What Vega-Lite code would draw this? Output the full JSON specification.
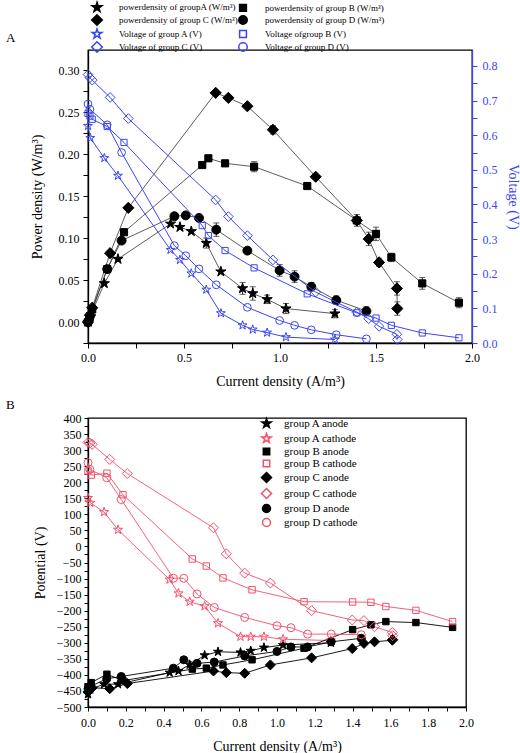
{
"$schema": "https://vega.github.io/schema/vega-lite/v6.json",
"padding": {"left": 5, "top": 1, "right": 0, "bottom": 0},
"config": {
  "font": "Liberation Serif",
  "view": {"stroke": "#000", "strokeWidth": 1.3},
  "axis": {"grid": false, "domainColor": "#000", "domainWidth": 1.3, "tickColor": "#000", "tickSize": 5, "labelFont": "Liberation Serif", "labelFontSize": 12, "labelColor": "#000", "titleFont": "Liberation Serif", "titleFontSize": 14, "titleFontWeight": "normal", "titleColor": "#000", "labelFlush": false, "labelOverlap": false},
  "legend": {"labelFont": "Liberation Serif", "labelColor": "#000"},
  "title": {"font": "Liberation Serif", "fontWeight": "normal", "fontSize": 13, "color": "#000"}
},
"datasets": {
  "pw": [
    {"s": "powerdensity of groupA (W/m³)", "x": 0, "y": 0},
    {"s": "powerdensity of groupA (W/m³)", "x": 0.012, "y": 0.007},
    {"s": "powerdensity of groupA (W/m³)", "x": 0.085, "y": 0.046},
    {"s": "powerdensity of groupA (W/m³)", "x": 0.156, "y": 0.075},
    {"s": "powerdensity of groupA (W/m³)", "x": 0.43, "y": 0.117},
    {"s": "powerdensity of groupA (W/m³)", "x": 0.479, "y": 0.113},
    {"s": "powerdensity of groupA (W/m³)", "x": 0.538, "y": 0.108},
    {"s": "powerdensity of groupA (W/m³)", "x": 0.616, "y": 0.094},
    {"s": "powerdensity of groupA (W/m³)", "x": 0.692, "y": 0.060},
    {"s": "powerdensity of groupA (W/m³)", "x": 0.805, "y": 0.040},
    {"s": "powerdensity of groupA (W/m³)", "x": 0.858, "y": 0.034},
    {"s": "powerdensity of groupA (W/m³)", "x": 0.933, "y": 0.027},
    {"s": "powerdensity of groupA (W/m³)", "x": 1.031, "y": 0.016},
    {"s": "powerdensity of groupA (W/m³)", "x": 1.286, "y": 0.010},
    {"s": "powerdensity of group B (W/m³)", "x": 0, "y": 0},
    {"s": "powerdensity of group B (W/m³)", "x": 0.01, "y": 0.007},
    {"s": "powerdensity of group B (W/m³)", "x": 0.022, "y": 0.015},
    {"s": "powerdensity of group B (W/m³)", "x": 0.1, "y": 0.063},
    {"s": "powerdensity of group B (W/m³)", "x": 0.1875, "y": 0.107},
    {"s": "powerdensity of group B (W/m³)", "x": 0.595, "y": 0.187},
    {"s": "powerdensity of group B (W/m³)", "x": 0.627, "y": 0.195},
    {"s": "powerdensity of group B (W/m³)", "x": 0.714, "y": 0.189},
    {"s": "powerdensity of group B (W/m³)", "x": 0.865, "y": 0.185},
    {"s": "powerdensity of group B (W/m³)", "x": 1.142, "y": 0.162},
    {"s": "powerdensity of group B (W/m³)", "x": 1.40, "y": 0.121},
    {"s": "powerdensity of group B (W/m³)", "x": 1.50, "y": 0.105},
    {"s": "powerdensity of group B (W/m³)", "x": 1.58, "y": 0.077},
    {"s": "powerdensity of group B (W/m³)", "x": 1.741, "y": 0.046},
    {"s": "powerdensity of group B (W/m³)", "x": 1.932, "y": 0.023},
    {"s": "powerdensity of group C (W/m³)", "x": 0, "y": 0},
    {"s": "powerdensity of group C (W/m³)", "x": 0.01, "y": 0.008},
    {"s": "powerdensity of group C (W/m³)", "x": 0.022, "y": 0.017},
    {"s": "powerdensity of group C (W/m³)", "x": 0.115, "y": 0.082},
    {"s": "powerdensity of group C (W/m³)", "x": 0.21, "y": 0.136},
    {"s": "powerdensity of group C (W/m³)", "x": 0.665, "y": 0.273},
    {"s": "powerdensity of group C (W/m³)", "x": 0.731, "y": 0.267},
    {"s": "powerdensity of group C (W/m³)", "x": 0.83, "y": 0.257},
    {"s": "powerdensity of group C (W/m³)", "x": 0.963, "y": 0.229},
    {"s": "powerdensity of group C (W/m³)", "x": 1.186, "y": 0.173},
    {"s": "powerdensity of group C (W/m³)", "x": 1.40, "y": 0.121},
    {"s": "powerdensity of group C (W/m³)", "x": 1.462, "y": 0.099},
    {"s": "powerdensity of group C (W/m³)", "x": 1.516, "y": 0.071},
    {"s": "powerdensity of group C (W/m³)", "x": 1.609, "y": 0.040},
    {"s": "powerdensity of group C (W/m³)", "x": 1.611, "y": 0.016},
    {"s": "powerdensity of group D (W/m³)", "x": 0, "y": 0},
    {"s": "powerdensity of group D (W/m³)", "x": 0.01, "y": 0.007},
    {"s": "powerdensity of group D (W/m³)", "x": 0.1, "y": 0.063},
    {"s": "powerdensity of group D (W/m³)", "x": 0.175, "y": 0.097},
    {"s": "powerdensity of group D (W/m³)", "x": 0.45, "y": 0.126},
    {"s": "powerdensity of group D (W/m³)", "x": 0.509, "y": 0.127},
    {"s": "powerdensity of group D (W/m³)", "x": 0.578, "y": 0.124},
    {"s": "powerdensity of group D (W/m³)", "x": 0.668, "y": 0.110},
    {"s": "powerdensity of group D (W/m³)", "x": 0.83, "y": 0.085},
    {"s": "powerdensity of group D (W/m³)", "x": 0.998, "y": 0.0615},
    {"s": "powerdensity of group D (W/m³)", "x": 1.076, "y": 0.054},
    {"s": "powerdensity of group D (W/m³)", "x": 1.163, "y": 0.042},
    {"s": "powerdensity of group D (W/m³)", "x": 1.293, "y": 0.026},
    {"s": "powerdensity of group D (W/m³)", "x": 1.45, "y": 0.013}
  ],
  "err": [
    {"x": 0.616, "lo": 0.088, "hi": 0.100},
    {"x": 0.805, "lo": 0.033, "hi": 0.047},
    {"x": 0.858, "lo": 0.026, "hi": 0.042},
    {"x": 0.933, "lo": 0.022, "hi": 0.032},
    {"x": 1.031, "lo": 0.010, "hi": 0.022},
    {"x": 1.286, "lo": 0.005, "hi": 0.015},
    {"x": 0.865, "lo": 0.179, "hi": 0.191},
    {"x": 1.50, "lo": 0.097, "hi": 0.113},
    {"x": 1.58, "lo": 0.072, "hi": 0.082},
    {"x": 1.741, "lo": 0.039, "hi": 0.053},
    {"x": 1.932, "lo": 0.017, "hi": 0.029},
    {"x": 0.963, "lo": 0.224, "hi": 0.234},
    {"x": 1.40, "lo": 0.114, "hi": 0.128},
    {"x": 1.462, "lo": 0.091, "hi": 0.107},
    {"x": 1.516, "lo": 0.066, "hi": 0.076},
    {"x": 1.609, "lo": 0.032, "hi": 0.048},
    {"x": 1.611, "lo": 0.008, "hi": 0.024},
    {"x": 0.668, "lo": 0.102, "hi": 0.118},
    {"x": 0.998, "lo": 0.0545, "hi": 0.0685},
    {"x": 1.076, "lo": 0.047, "hi": 0.061},
    {"x": 1.163, "lo": 0.037, "hi": 0.047},
    {"x": 1.293, "lo": 0.021, "hi": 0.031},
    {"x": 1.45, "lo": 0.008, "hi": 0.018}
  ],
  "vo": [
    {"s": "Voltage  of group A (V)", "x": 0, "y": 0.627},
    {"s": "Voltage  of group A (V)", "x": 0.012, "y": 0.592},
    {"s": "Voltage  of group A (V)", "x": 0.085, "y": 0.534},
    {"s": "Voltage  of group A (V)", "x": 0.156, "y": 0.483},
    {"s": "Voltage  of group A (V)", "x": 0.43, "y": 0.269},
    {"s": "Voltage  of group A (V)", "x": 0.479, "y": 0.240},
    {"s": "Voltage  of group A (V)", "x": 0.538, "y": 0.201},
    {"s": "Voltage  of group A (V)", "x": 0.616, "y": 0.154},
    {"s": "Voltage  of group A (V)", "x": 0.692, "y": 0.086},
    {"s": "Voltage  of group A (V)", "x": 0.805, "y": 0.051},
    {"s": "Voltage  of group A (V)", "x": 0.858, "y": 0.039},
    {"s": "Voltage  of group A (V)", "x": 0.933, "y": 0.030},
    {"s": "Voltage  of group A (V)", "x": 1.031, "y": 0.017},
    {"s": "Voltage  of group A (V)", "x": 1.286, "y": 0.010},
    {"s": "Voltage ofgroup B (V)", "x": 0, "y": 0.663},
    {"s": "Voltage ofgroup B (V)", "x": 0.01, "y": 0.655},
    {"s": "Voltage ofgroup B (V)", "x": 0.022, "y": 0.646},
    {"s": "Voltage ofgroup B (V)", "x": 0.1, "y": 0.625},
    {"s": "Voltage ofgroup B (V)", "x": 0.1875, "y": 0.579},
    {"s": "Voltage ofgroup B (V)", "x": 0.595, "y": 0.339},
    {"s": "Voltage ofgroup B (V)", "x": 0.627, "y": 0.310},
    {"s": "Voltage ofgroup B (V)", "x": 0.714, "y": 0.267},
    {"s": "Voltage ofgroup B (V)", "x": 0.865, "y": 0.217},
    {"s": "Voltage ofgroup B (V)", "x": 1.142, "y": 0.142},
    {"s": "Voltage ofgroup B (V)", "x": 1.40, "y": 0.087},
    {"s": "Voltage ofgroup B (V)", "x": 1.50, "y": 0.072},
    {"s": "Voltage ofgroup B (V)", "x": 1.58, "y": 0.051},
    {"s": "Voltage ofgroup B (V)", "x": 1.741, "y": 0.029},
    {"s": "Voltage ofgroup B (V)", "x": 1.932, "y": 0.015},
    {"s": "Voltage of group C (V)", "x": 0, "y": 0.775},
    {"s": "Voltage of group C (V)", "x": 0.01, "y": 0.766},
    {"s": "Voltage of group C (V)", "x": 0.022, "y": 0.759},
    {"s": "Voltage of group C (V)", "x": 0.115, "y": 0.709},
    {"s": "Voltage of group C (V)", "x": 0.21, "y": 0.648},
    {"s": "Voltage of group C (V)", "x": 0.665, "y": 0.413},
    {"s": "Voltage of group C (V)", "x": 0.731, "y": 0.365},
    {"s": "Voltage of group C (V)", "x": 0.83, "y": 0.310},
    {"s": "Voltage of group C (V)", "x": 0.963, "y": 0.240},
    {"s": "Voltage of group C (V)", "x": 1.186, "y": 0.147},
    {"s": "Voltage of group C (V)", "x": 1.40, "y": 0.089},
    {"s": "Voltage of group C (V)", "x": 1.462, "y": 0.070},
    {"s": "Voltage of group C (V)", "x": 1.516, "y": 0.048},
    {"s": "Voltage of group C (V)", "x": 1.609, "y": 0.025},
    {"s": "Voltage of group C (V)", "x": 1.611, "y": 0.010},
    {"s": "Voltage of group D (V)", "x": 0, "y": 0.690},
    {"s": "Voltage of group D (V)", "x": 0.01, "y": 0.675},
    {"s": "Voltage of group D (V)", "x": 0.1, "y": 0.630},
    {"s": "Voltage of group D (V)", "x": 0.175, "y": 0.550},
    {"s": "Voltage of group D (V)", "x": 0.45, "y": 0.281},
    {"s": "Voltage of group D (V)", "x": 0.509, "y": 0.252},
    {"s": "Voltage of group D (V)", "x": 0.578, "y": 0.214},
    {"s": "Voltage of group D (V)", "x": 0.668, "y": 0.168},
    {"s": "Voltage of group D (V)", "x": 0.83, "y": 0.103},
    {"s": "Voltage of group D (V)", "x": 0.998, "y": 0.065},
    {"s": "Voltage of group D (V)", "x": 1.076, "y": 0.051},
    {"s": "Voltage of group D (V)", "x": 1.163, "y": 0.038},
    {"s": "Voltage of group D (V)", "x": 1.293, "y": 0.024},
    {"s": "Voltage of group D (V)", "x": 1.45, "y": 0.012}
  ],
  "pot": [
    {"s": "group A anode", "x": 0, "y": -460},
    {"s": "group A anode", "x": 0.012, "y": -445},
    {"s": "group A anode", "x": 0.085, "y": -429},
    {"s": "group A anode", "x": 0.159, "y": -429},
    {"s": "group A anode", "x": 0.432, "y": -393},
    {"s": "group A anode", "x": 0.479, "y": -388},
    {"s": "group A anode", "x": 0.538, "y": -368},
    {"s": "group A anode", "x": 0.617, "y": -339},
    {"s": "group A anode", "x": 0.688, "y": -328},
    {"s": "group A anode", "x": 0.807, "y": -330},
    {"s": "group A anode", "x": 0.861, "y": -325},
    {"s": "group A anode", "x": 0.931, "y": -315},
    {"s": "group A anode", "x": 1.032, "y": -307},
    {"s": "group A anode", "x": 1.285, "y": -300},
    {"s": "group A cathode", "x": 0, "y": 151},
    {"s": "group A cathode", "x": 0.012, "y": 136},
    {"s": "group A cathode", "x": 0.085, "y": 107},
    {"s": "group A cathode", "x": 0.159, "y": 52},
    {"s": "group A cathode", "x": 0.432, "y": -103},
    {"s": "group A cathode", "x": 0.479, "y": -146},
    {"s": "group A cathode", "x": 0.538, "y": -172},
    {"s": "group A cathode", "x": 0.617, "y": -186},
    {"s": "group A cathode", "x": 0.688, "y": -239},
    {"s": "group A cathode", "x": 0.807, "y": -281},
    {"s": "group A cathode", "x": 0.861, "y": -281},
    {"s": "group A cathode", "x": 0.931, "y": -281},
    {"s": "group A cathode", "x": 1.032, "y": -289},
    {"s": "group A cathode", "x": 1.285, "y": -293},
    {"s": "group B  anode", "x": 0, "y": -438},
    {"s": "group B  anode", "x": 0.017, "y": -424},
    {"s": "group B  anode", "x": 0.1, "y": -398},
    {"s": "group B  anode", "x": 0.185, "y": -418},
    {"s": "group B  anode", "x": 0.552, "y": -382},
    {"s": "group B  anode", "x": 0.626, "y": -379},
    {"s": "group B  anode", "x": 0.714, "y": -369},
    {"s": "group B  anode", "x": 0.868, "y": -353},
    {"s": "group B  anode", "x": 1.143, "y": -317},
    {"s": "group B  anode", "x": 1.40, "y": -259},
    {"s": "group B  anode", "x": 1.497, "y": -244},
    {"s": "group B  anode", "x": 1.576, "y": -234},
    {"s": "group B  anode", "x": 1.735, "y": -237},
    {"s": "group B  anode", "x": 1.929, "y": -252},
    {"s": "group B cathode", "x": 0, "y": 235},
    {"s": "group B cathode", "x": 0.017, "y": 222},
    {"s": "group B cathode", "x": 0.1, "y": 228},
    {"s": "group B cathode", "x": 0.185, "y": 161},
    {"s": "group B cathode", "x": 0.552, "y": -39},
    {"s": "group B cathode", "x": 0.626, "y": -61},
    {"s": "group B cathode", "x": 0.714, "y": -98},
    {"s": "group B cathode", "x": 0.868, "y": -135},
    {"s": "group B cathode", "x": 1.143, "y": -172},
    {"s": "group B cathode", "x": 1.40, "y": -173},
    {"s": "group B cathode", "x": 1.497, "y": -174},
    {"s": "group B cathode", "x": 1.576, "y": -187},
    {"s": "group B cathode", "x": 1.735, "y": -199},
    {"s": "group B cathode", "x": 1.929, "y": -234},
    {"s": "group C anode", "x": 0, "y": -453},
    {"s": "group C anode", "x": 0.01, "y": -444},
    {"s": "group C anode", "x": 0.022, "y": -440},
    {"s": "group C anode", "x": 0.115, "y": -443},
    {"s": "group C anode", "x": 0.208, "y": -427},
    {"s": "group C anode", "x": 0.664, "y": -388},
    {"s": "group C anode", "x": 0.732, "y": -393},
    {"s": "group C anode", "x": 0.829, "y": -395},
    {"s": "group C anode", "x": 0.965, "y": -369},
    {"s": "group C anode", "x": 1.183, "y": -347},
    {"s": "group C anode", "x": 1.398, "y": -318},
    {"s": "group C anode", "x": 1.46, "y": -302},
    {"s": "group C anode", "x": 1.516, "y": -297},
    {"s": "group C anode", "x": 1.61, "y": -292},
    {"s": "group C anode", "x": 1.612, "y": -290},
    {"s": "group C cathode", "x": 0, "y": 324},
    {"s": "group C cathode", "x": 0.01, "y": 322},
    {"s": "group C cathode", "x": 0.022, "y": 318},
    {"s": "group C cathode", "x": 0.115, "y": 271},
    {"s": "group C cathode", "x": 0.208, "y": 227},
    {"s": "group C cathode", "x": 0.664, "y": 58},
    {"s": "group C cathode", "x": 0.732, "y": -23},
    {"s": "group C cathode", "x": 0.829, "y": -83},
    {"s": "group C cathode", "x": 0.965, "y": -114},
    {"s": "group C cathode", "x": 1.183, "y": -200},
    {"s": "group C cathode", "x": 1.398, "y": -229},
    {"s": "group C cathode", "x": 1.46, "y": -231},
    {"s": "group C cathode", "x": 1.516, "y": -250},
    {"s": "group C cathode", "x": 1.61, "y": -268},
    {"s": "group C cathode", "x": 1.612, "y": -278},
    {"s": "group D anode", "x": 0, "y": -443},
    {"s": "group D anode", "x": 0.01, "y": -437},
    {"s": "group D anode", "x": 0.099, "y": -412},
    {"s": "group D anode", "x": 0.176, "y": -405},
    {"s": "group D anode", "x": 0.452, "y": -379},
    {"s": "group D anode", "x": 0.507, "y": -353},
    {"s": "group D anode", "x": 0.577, "y": -364},
    {"s": "group D anode", "x": 0.668, "y": -360},
    {"s": "group D anode", "x": 0.829, "y": -341},
    {"s": "group D anode", "x": 1.0, "y": -327},
    {"s": "group D anode", "x": 1.074, "y": -313},
    {"s": "group D anode", "x": 1.162, "y": -313},
    {"s": "group D anode", "x": 1.287, "y": -297},
    {"s": "group D anode", "x": 1.446, "y": -286},
    {"s": "group D cathode", "x": 0, "y": 261},
    {"s": "group D cathode", "x": 0.01, "y": 240},
    {"s": "group D cathode", "x": 0.099, "y": 214},
    {"s": "group D cathode", "x": 0.176, "y": 146},
    {"s": "group D cathode", "x": 0.452, "y": -99},
    {"s": "group D cathode", "x": 0.507, "y": -99},
    {"s": "group D cathode", "x": 0.577, "y": -148},
    {"s": "group D cathode", "x": 0.668, "y": -190},
    {"s": "group D cathode", "x": 0.829, "y": -221},
    {"s": "group D cathode", "x": 1.0, "y": -247},
    {"s": "group D cathode", "x": 1.074, "y": -253},
    {"s": "group D cathode", "x": 1.162, "y": -273},
    {"s": "group D cathode", "x": 1.287, "y": -273},
    {"s": "group D cathode", "x": 1.446, "y": -275}
  ]
},
"vconcat": [
  {
    "width": 384, "height": 293,
    "title": {"text": "A", "anchor": "start", "frame": "group", "dx": -82, "dy": 43, "offset": 0},
    "layer": [
      {"data": {"name": "pw"}, "layer": [
        {"mark": {"type": "line", "strokeWidth": 0.8, "stroke": "#333"},
         "encoding": {
           "x": {"field": "x", "type": "quantitative", "scale": {"domain": [0, 2], "nice": false}},
           "y": {"field": "y", "type": "quantitative", "scale": {"domain": [-0.025, 0.324], "nice": false, "zero": false}, "title": "Power density (W/m³)"},
           "detail": {"field": "s"}}},
        {"data": {"name": "err"}, "mark": {"type": "errorbar", "ticks": {"size": 6}, "color": "#222"},
         "encoding": {
           "x": {"field": "x", "type": "quantitative", "scale": {"domain": [0, 2], "nice": false}},
           "y": {"field": "lo", "type": "quantitative", "scale": {"domain": [-0.025, 0.324], "nice": false, "zero": false}, "title": "Power density (W/m³)"},
           "y2": {"field": "hi"}}},
        {"mark": {"type": "point", "size": 80, "opacity": 1, "strokeWidth": 1},
         "encoding": {
           "x": {"field": "x", "type": "quantitative", "scale": {"domain": [0, 2], "nice": false},
                 "axis": {"title": "Current density (A/m³)", "values": [0, 0.25, 0.5, 0.75, 1, 1.25, 1.5, 1.75, 2], "tickCount": 500,
                          "labelExpr": "abs(datum.value*2-round(datum.value*2))<1e-6 ? format(datum.value,'.1f') : ''",
                          "labelOverlap": false, "labelPadding": 4, "titlePadding": 11,
                          "encode": {"ticks": {"y2": {"value": {"expr": "abs(datum.value*2-round(datum.value*2))<1e-6 ? 5 : 3"}}}}}},
           "y": {"field": "y", "type": "quantitative", "scale": {"domain": [-0.025, 0.324], "nice": false, "zero": false},
                 "axis": {"title": "Power density (W/m³)", "values": [-0.025, 0, 0.025, 0.05, 0.075, 0.1, 0.125, 0.15, 0.175, 0.2, 0.225, 0.25, 0.275, 0.3], "tickCount": 500,
                          "labelExpr": "datum.value > -0.001 && abs(datum.value*20-round(datum.value*20))<1e-6 ? format(datum.value,'.2f') : ''",
                          "labelOverlap": false, "labelPadding": 4, "titlePadding": 14,
                          "encode": {"ticks": {"x2": {"value": {"expr": "abs(datum.value*20-round(datum.value*20))<1e-6 ? -5 : -3"}}}}}},
           "shape": {"field": "s", "type": "nominal",
                     "scale": {"domain": ["powerdensity of groupA (W/m³)", "powerdensity of group C (W/m³)", "Voltage  of group A (V)", "Voltage of group C (V)", "powerdensity of group B (W/m³)", "powerdensity of group D (W/m³)", "Voltage ofgroup B (V)", "Voltage of group D (V)"],
                               "range": ["M0,-1.2L0.27,-0.37L1.14,-0.37L0.44,0.14L0.71,0.97L0,0.46L-0.71,0.97L-0.44,0.14L-1.14,-0.37L-0.27,-0.37Z", "M0,-1.25L1.25,0L0,1.25L-1.25,0Z", "M0,-1.2L0.27,-0.37L1.14,-0.37L0.44,0.14L0.71,0.97L0,0.46L-0.71,0.97L-0.44,0.14L-1.14,-0.37L-0.27,-0.37Z", "M0,-1.25L1.25,0L0,1.25L-1.25,0Z", "M-0.8,-0.8H0.8V0.8H-0.8Z", "circle", "M-0.8,-0.8H0.8V0.8H-0.8Z", "circle"]},
                     "legend": {"orient": "none", "legendX": 4, "legendY": -48, "columns": 2, "title": null, "padding": 0,
                                "symbolSize": 72, "labelFontSize": 9, "labelOffset": 17, "rowPadding": -6.3, "columnPadding": -5,
                                "encode": {"symbols": {
                                  "fill": {"value": {"expr": "indexOf(datum.value,'power')>=0 ? '#000000' : 'transparent'"}},
                                  "stroke": {"value": {"expr": "indexOf(datum.value,'power')>=0 ? '#000000' : '#3a46f2'"}},
                                  "strokeWidth": {"value": 1},
                                  "opacity": {"value": 1}}}}},
           "fill": {"field": "s", "type": "nominal", "legend": null,
                    "scale": {"domain": ["powerdensity of groupA (W/m³)", "powerdensity of group C (W/m³)", "Voltage  of group A (V)", "Voltage of group C (V)", "powerdensity of group B (W/m³)", "powerdensity of group D (W/m³)", "Voltage ofgroup B (V)", "Voltage of group D (V)"],
                              "range": ["#000000", "#000000", "transparent", "transparent", "#000000", "#000000", "transparent", "transparent"]}},
           "stroke": {"field": "s", "type": "nominal", "legend": null,
                      "scale": {"domain": ["powerdensity of groupA (W/m³)", "powerdensity of group C (W/m³)", "Voltage  of group A (V)", "Voltage of group C (V)", "powerdensity of group B (W/m³)", "powerdensity of group D (W/m³)", "Voltage ofgroup B (V)", "Voltage of group D (V)"],
                                "range": ["#000000", "#000000", "#3a46f2", "#3a46f2", "#000000", "#000000", "#3a46f2", "#3a46f2"]}}}}
      ]},
      {"data": {"name": "vo"}, "layer": [
        {"mark": {"type": "line", "strokeWidth": 1, "stroke": "#3a46f2"},
         "encoding": {
           "x": {"field": "x", "type": "quantitative", "scale": {"domain": [0, 2], "nice": false}},
           "y": {"field": "y", "type": "quantitative", "scale": {"domain": [0, 0.846], "nice": false}, "title": "Voltage (V)"},
           "detail": {"field": "s"}}},
        {"mark": {"type": "point", "size": 60, "opacity": 1, "strokeWidth": 1},
         "encoding": {
           "x": {"field": "x", "type": "quantitative", "scale": {"domain": [0, 2], "nice": false}},
           "y": {"field": "y", "type": "quantitative", "scale": {"domain": [0, 0.846], "nice": false},
                 "axis": {"orient": "right", "title": "Voltage (V)", "values": [0, 0.05, 0.1, 0.15, 0.2, 0.25, 0.3, 0.35, 0.4, 0.45, 0.5, 0.55, 0.6, 0.65, 0.7, 0.75, 0.8], "tickCount": 500,
                          "labelExpr": "abs(datum.value*10-round(datum.value*10))<1e-6 ? format(datum.value,'.1f') : ''",
                          "labelOverlap": false,
                          "domainColor": "#3a46f2", "tickColor": "#3a46f2", "labelColor": "#3a46f2", "titleColor": "#3a46f2",
                          "labelPadding": 5, "titlePadding": 8,
                          "encode": {"ticks": {"x2": {"value": {"expr": "abs(datum.value*10-round(datum.value*10))<1e-6 ? 5 : 3"}}}}}},
           "shape": {"field": "s", "type": "nominal", "legend": null,
                     "scale": {"domain": ["powerdensity of groupA (W/m³)", "powerdensity of group C (W/m³)", "Voltage  of group A (V)", "Voltage of group C (V)", "powerdensity of group B (W/m³)", "powerdensity of group D (W/m³)", "Voltage ofgroup B (V)", "Voltage of group D (V)"],
                               "range": ["M0,-1.2L0.27,-0.37L1.14,-0.37L0.44,0.14L0.71,0.97L0,0.46L-0.71,0.97L-0.44,0.14L-1.14,-0.37L-0.27,-0.37Z", "M0,-1.25L1.25,0L0,1.25L-1.25,0Z", "M0,-1.2L0.27,-0.37L1.14,-0.37L0.44,0.14L0.71,0.97L0,0.46L-0.71,0.97L-0.44,0.14L-1.14,-0.37L-0.27,-0.37Z", "M0,-1.25L1.25,0L0,1.25L-1.25,0Z", "M-0.8,-0.8H0.8V0.8H-0.8Z", "circle", "M-0.8,-0.8H0.8V0.8H-0.8Z", "circle"]}},
           "fill": {"field": "s", "type": "nominal", "legend": null,
                    "scale": {"domain": ["powerdensity of groupA (W/m³)", "powerdensity of group C (W/m³)", "Voltage  of group A (V)", "Voltage of group C (V)", "powerdensity of group B (W/m³)", "powerdensity of group D (W/m³)", "Voltage ofgroup B (V)", "Voltage of group D (V)"],
                              "range": ["#000000", "#000000", "transparent", "transparent", "#000000", "#000000", "transparent", "transparent"]}},
           "stroke": {"field": "s", "type": "nominal", "legend": null,
                      "scale": {"domain": ["powerdensity of groupA (W/m³)", "powerdensity of group C (W/m³)", "Voltage  of group A (V)", "Voltage of group C (V)", "powerdensity of group B (W/m³)", "powerdensity of group D (W/m³)", "Voltage ofgroup B (V)", "Voltage of group D (V)"],
                                "range": ["#000000", "#000000", "#3a46f2", "#3a46f2", "#000000", "#000000", "#3a46f2", "#3a46f2"]}}}}
      ]}
    ],
    "resolve": {"scale": {"y": "independent"}}
  },
  {
    "width": 378, "height": 289,
    "title": {"text": "B", "anchor": "start", "frame": "group", "dx": -82, "dy": 4, "offset": 4},
    "layer": [
      {"data": {"name": "pot"}, "layer": [
        {"mark": {"type": "line", "strokeWidth": 0.9},
         "encoding": {
           "x": {"field": "x", "type": "quantitative", "scale": {"domain": [0, 2], "nice": false}},
           "y": {"field": "y", "type": "quantitative", "scale": {"domain": [-500, 400], "nice": false}, "title": "Potential (V)"},
           "detail": {"field": "s"},
           "stroke": {"field": "s", "type": "nominal",
                      "scale": {"domain": ["group A anode", "group A cathode", "group B  anode", "group B cathode", "group C anode", "group C cathode", "group D anode", "group D cathode"],
                                "range": ["#000000", "#f2506b", "#000000", "#f2506b", "#000000", "#f2506b", "#000000", "#f2506b"]},
                      "legend": {"orient": "none", "legendX": 173, "legendY": 0, "title": null, "padding": 0, "direction": "vertical", "symbolSize": 64, "labelFontSize": 11, "labelOffset": 12, "rowPadding": -1}}}},
        {"mark": {"type": "point", "size": 64, "opacity": 1, "strokeWidth": 1},
         "encoding": {
           "x": {"field": "x", "type": "quantitative", "scale": {"domain": [0, 2], "nice": false},
                 "axis": {"title": "Current density (A/m³)", "values": [0, 0.1, 0.2, 0.3, 0.4, 0.5, 0.6, 0.7, 0.8, 0.9, 1, 1.1, 1.2, 1.3, 1.4, 1.5, 1.6, 1.7, 1.8, 1.9, 2], "tickCount": 500,
                          "labelExpr": "abs(datum.value*5-round(datum.value*5))<1e-6 ? format(datum.value,'.1f') : ''",
                          "labelOverlap": false, "tickSize": 4, "labelPadding": 6, "titlePadding": 11,
                          "encode": {"ticks": {"y2": {"value": {"expr": "abs(datum.value*5-round(datum.value*5))<1e-6 ? 4 : 2.5"}}}}}},
           "y": {"field": "y", "type": "quantitative", "scale": {"domain": [-500, 400], "nice": false},
                 "axis": {"title": "Potential (V)", "values": [-500, -475, -450, -425, -400, -375, -350, -325, -300, -275, -250, -225, -200, -175, -150, -125, -100, -75, -50, -25, 0, 25, 50, 75, 100, 125, 150, 175, 200, 225, 250, 275, 300, 325, 350, 375, 400], "tickCount": 500,
                          "labelExpr": "datum.value % 50 == 0 ? format(datum.value,'d') : ''",
                          "labelOverlap": false, "tickSize": 4, "labelPadding": 3, "titlePadding": 9,
                          "encode": {"ticks": {"x2": {"value": {"expr": "datum.value % 50 == 0 ? -4 : -2.5"}}}}}},
           "shape": {"field": "s", "type": "nominal",
                     "scale": {"domain": ["group A anode", "group A cathode", "group B  anode", "group B cathode", "group C anode", "group C cathode", "group D anode", "group D cathode"],
                               "range": ["M0,-1.2L0.27,-0.37L1.14,-0.37L0.44,0.14L0.71,0.97L0,0.46L-0.71,0.97L-0.44,0.14L-1.14,-0.37L-0.27,-0.37Z", "M0,-1.2L0.27,-0.37L1.14,-0.37L0.44,0.14L0.71,0.97L0,0.46L-0.71,0.97L-0.44,0.14L-1.14,-0.37L-0.27,-0.37Z", "M-0.8,-0.8H0.8V0.8H-0.8Z", "M-0.8,-0.8H0.8V0.8H-0.8Z", "M0,-1.25L1.25,0L0,1.25L-1.25,0Z", "M0,-1.25L1.25,0L0,1.25L-1.25,0Z", "circle", "circle"]},
                     "legend": {"orient": "none", "legendX": 173, "legendY": 0, "title": null, "padding": 0, "direction": "vertical", "symbolSize": 64, "labelFontSize": 11, "labelOffset": 12, "rowPadding": -1}},
           "fill": {"field": "s", "type": "nominal",
                    "scale": {"domain": ["group A anode", "group A cathode", "group B  anode", "group B cathode", "group C anode", "group C cathode", "group D anode", "group D cathode"],
                              "range": ["#000000", "transparent", "#000000", "transparent", "#000000", "transparent", "#000000", "transparent"]},
                    "legend": {"orient": "none", "legendX": 173, "legendY": 0, "title": null, "padding": 0, "direction": "vertical", "symbolSize": 64, "labelFontSize": 11, "labelOffset": 12, "rowPadding": -1}},
           "stroke": {"field": "s", "type": "nominal",
                      "scale": {"domain": ["group A anode", "group A cathode", "group B  anode", "group B cathode", "group C anode", "group C cathode", "group D anode", "group D cathode"],
                                "range": ["#000000", "#f2506b", "#000000", "#f2506b", "#000000", "#f2506b", "#000000", "#f2506b"]},
                      "legend": {"orient": "none", "legendX": 173, "legendY": 0, "title": null, "padding": 0, "direction": "vertical", "symbolSize": 64, "labelFontSize": 11, "labelOffset": 12, "rowPadding": -1}}}}
      ]}
    ]
  }
],
"spacing": 9,
"resolve": {"scale": {"shape": "independent", "fill": "independent", "stroke": "independent"}, "legend": {"shape": "independent", "fill": "independent", "stroke": "independent"}}
}
